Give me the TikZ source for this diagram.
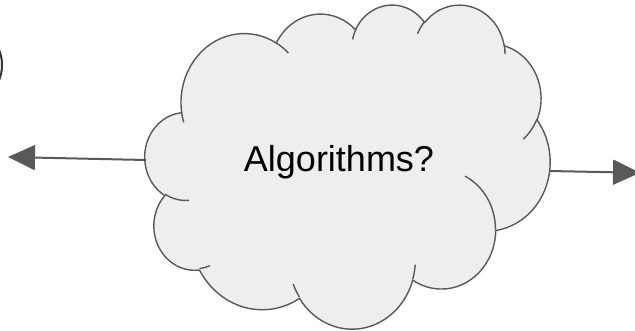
\documentclass[tikz,border=0pt]{standalone}
\usepackage{fontspec}
\setmainfont{Liberation Sans}
\usetikzlibrary{arrows.meta}
\definecolor{edgegray}{HTML}{595959}
\definecolor{cloudfill}{HTML}{EEEEEE}
% visual (DrawingML) angles -> parametric start angle and sweep
\newcommand\prepArc[6]{%
  \pgfmathsetmacro\tmpS{atan2(#3*sin(#5),#4*cos(#5))}%
  \pgfmathsetmacro\tmpE{atan2(#3*sin(#5+#6),#4*cos(#5+#6))}%
  \pgfmathsetmacro\tmpD{mod(\tmpE-\tmpS+720,360)}%
  \global\let#1\tmpS \global\let#2\tmpD}
\prepArc\sA\dA{67.53}{91.90}{-190.4875}{123.7805}
\prepArc\sB\dB{53.33}{72.67}{-144.1024}{89.9452}
\prepArc\sC\dC{43.65}{59.45}{-145.8079}{99.7230}
\prepArc\sD\dD{48.57}{65.95}{-130.9861}{117.2417}
\prepArc\sE\dE{53.33}{72.73}{-78.7089}{109.0269}
\prepArc\sF\dF{67.75}{92.20}{-46.2673}{130.2690}
\prepArc\sG\dG{57.85}{78.67}{0.6250}{114.0333}
\prepArc\sH\dH{67.52}{92.15}{22.4624}{115.1726}
\prepArc\sI\dI{77.20}{105.43}{66.2426}{75.7110}
\prepArc\sJ\dJ{43.60}{59.18}{-274.9421}{146.7356}
\prepArc\sK\dK{43.45}{59.45}{-246.8285}{152.5189}
% inner tails
\prepArc\iSa\iDa{43.45}{59.45}{86.7420}{26.4295}
\prepArc\iSb\iDb{43.60}{59.18}{73.6105}{11.4475}
\prepArc\iSc\iDc{67.52}{92.15}{137.6242}{14.0811}
\prepArc\iSd\iDd{67.52}{92.15}{6.4533}{15.9984}
\prepArc\iSe\iDe{57.85}{78.67}{-70.2924}{70.9174}
\prepArc\iSf\iDf{53.33}{72.73}{30.3180}{27.7515}
\prepArc\iSg\iDg{48.57}{65.95}{-13.7443}{14.8589}
\prepArc\iSh\iDh{48.57}{65.95}{-149.1815}{18.1954}
\prepArc\iSi\iDi{43.65}{59.45}{-163.4943}{17.6840}
\prepArc\iSj\iDj{67.53}{91.90}{-66.7070}{12.3194}
\prepArc\iSk\iDk{67.53}{91.90}{157.6544}{11.8582}
\tikzset{
  cloudline/.style={draw=edgegray, line width=1.4pt, line join=round},
  arrowline/.style={draw=edgegray, line width=2pt, -{Triangle[length=27pt,width=25pt]}},
  cloudtext/.style={font=\fontsize{36}{43}\selectfont, text=black, inner sep=0pt, anchor=base},
}
\begin{document}
\begin{tikzpicture}[x=1pt,y=-1pt]
\useasboundingbox (0,0) rectangle (635,330);
\begin{scope}[shift={(145,4)}, x=0.9375pt, y=-0.75pt]
\path[cloudline, fill=cloudfill] (39.00,143.70)
  arc[start angle=\sA, delta angle=\dA, x radius=67.53, y radius=91.90]
  arc[start angle=\sB, delta angle=\dB, x radius=53.33, y radius=72.67]
  arc[start angle=\sC, delta angle=\dC, x radius=43.65, y radius=59.45]
  arc[start angle=\sD, delta angle=\dD, x radius=48.57, y radius=65.95]
  arc[start angle=\sE, delta angle=\dE, x radius=53.33, y radius=72.73]
  arc[start angle=\sF, delta angle=\dF, x radius=67.75, y radius=92.20]
  arc[start angle=\sG, delta angle=\dG, x radius=57.85, y radius=78.67]
  arc[start angle=\sH, delta angle=\dH, x radius=67.52, y radius=92.15]
  arc[start angle=\sI, delta angle=\dI, x radius=77.20, y radius=105.43]
  arc[start angle=\sJ, delta angle=\dJ, x radius=43.60, y radius=59.18]
  arc[start angle=\sK, delta angle=\dK, x radius=43.45, y radius=59.45]
  -- cycle;
\path[cloudline]
  (46.93,261.77) arc[start angle=\iSa, delta angle=\iDa, x radius=43.45, y radius=59.45]
  (69.28,348.99) arc[start angle=\iSb, delta angle=\iDb, x radius=43.60, y radius=59.18]
  (164.78,390.90) arc[start angle=\iSc, delta angle=\iDc, x radius=67.52, y radius=92.15]
  (288.27,347.51) arc[start angle=\iSd, delta angle=\iDd, x radius=67.52, y radius=92.15]
  (341.29,229.54) arc[start angle=\iSe, delta angle=\iDe, x radius=57.85, y radius=78.67]
  (417.98,153.54) arc[start angle=\iSf, delta angle=\iDf, x radius=53.33, y radius=72.73]
  (383.24,54.26) arc[start angle=\iSg, delta angle=\iDg, x radius=48.57, y radius=65.95]
  (290.78,39.52) arc[start angle=\iSh, delta angle=\iDh, x radius=48.57, y radius=65.95]
  (221.41,47.20) arc[start angle=\iSi, delta angle=\iDi, x radius=43.65, y radius=59.45]
  (140.00,51.92) arc[start angle=\iSj, delta angle=\iDj, x radius=67.53, y radius=91.90]
  (41.27,157.89) arc[start angle=\iSk, delta angle=\iDk, x radius=67.53, y radius=91.90];
\end{scope}
\node[cloudtext] (label) at (339,171) {Algorithms?};
\coordinate (cloudL) at (146,160);
\coordinate (tipL) at (8,157);
\coordinate (cloudR) at (549.5,171);
\coordinate (tipR) at (640,172.8);
\draw[arrowline] (cloudL) -- (tipL);
\draw[arrowline] (cloudR) -- (tipR);
% cropped glyph fragment at the left edge
\draw[line width=2pt, black!80] (-1,50) .. controls (3,58) and (3,72) .. (-1,80);
\end{tikzpicture}
\end{document}
